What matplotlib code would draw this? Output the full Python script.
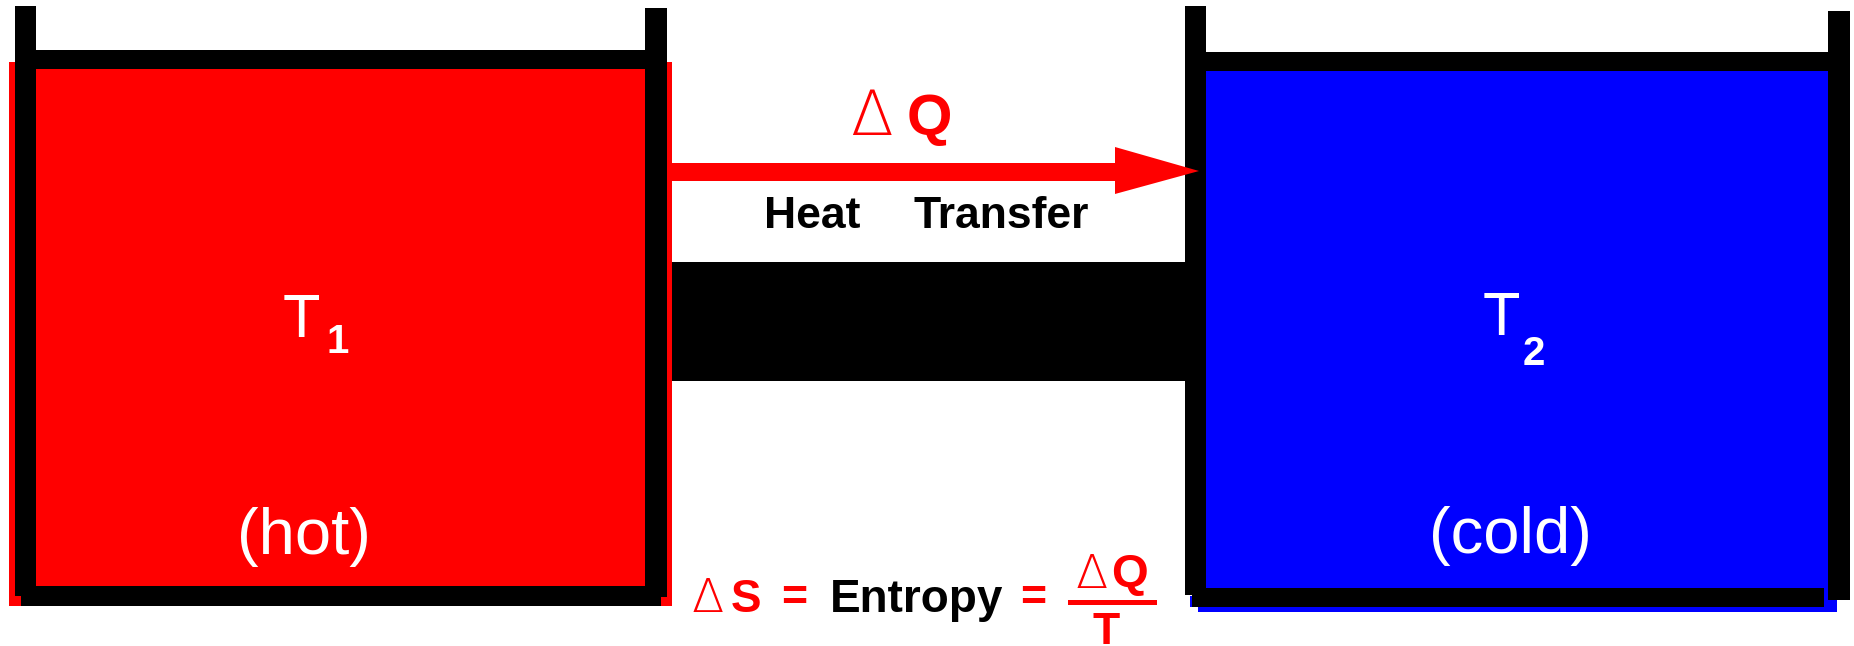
import matplotlib
matplotlib.use("Agg")
import matplotlib.pyplot as plt
from matplotlib.patches import Rectangle, Polygon

# ---- content ----
hot_label = "(hot)"
cold_label = "(cold)"
temp_labels = ["T", "T"]
temp_subs = ["1", "2"]
flow_symbol = ["Δ", "Q"]
flow_label = ["Heat", "Transfer"]
formula_parts = ["Δ", "S", "=", "Entropy", "="]
fraction_num = ["Δ", "Q"]
fraction_den = "T"

RED = "#ff0000"
BLUE = "#0000ff"
BLACK = "#000000"
WHITE = "#ffffff"
FONT = "Liberation Sans"
DELTA_FONT = "DejaVu Sans"

W, H = 1854, 646
fig = plt.figure(figsize=(W / 100, H / 100), dpi=100)
ax = fig.add_axes([0, 0, 1, 1])
ax.set_xlim(0, W)
ax.set_ylim(H, 0)
ax.axis("off")


def rect(x0, y0, x1, y1, color):
    ax.add_patch(Rectangle((x0, y0), x1 - x0, y1 - y0, facecolor=color,
                           edgecolor="none", linewidth=0))


# left (hot) container
rect(9, 62, 672, 606, RED)
rect(15, 6, 36, 596, BLACK)
rect(645, 8, 667, 597, BLACK)
rect(15, 50, 667, 69, BLACK)
rect(21, 586, 661, 606, BLACK)

# right (cold) container
rect(1198, 71, 1837, 612, BLUE)
rect(1190, 596, 1200, 607, BLUE)
rect(1185, 6, 1206, 595, BLACK)
rect(1828, 11, 1850, 600, BLACK)
rect(1185, 52, 1850, 71, BLACK)
rect(1192, 588, 1824, 607, BLACK)

# connecting bar
rect(672, 262, 1186, 381, BLACK)

# heat-flow arrow
rect(670, 163, 1115, 181, RED)
ax.add_patch(Polygon([(1115, 147), (1115, 194), (1199, 171)], closed=True,
                     facecolor=RED, edgecolor="none"))

# labels in the containers
ax.text(283, 337, temp_labels[0], color=WHITE, fontsize=44, family=FONT,
        ha="left", va="baseline")
ax.text(327, 353, temp_subs[0], color=WHITE, fontsize=29, family=FONT,
        fontweight="bold", ha="left", va="baseline")
ax.text(1483, 335, temp_labels[1], color=WHITE, fontsize=44, family=FONT,
        ha="left", va="baseline")
ax.text(1523, 365, temp_subs[1], color=WHITE, fontsize=29, family=FONT,
        fontweight="bold", ha="left", va="baseline")
ax.text(304, 554, hot_label, color=WHITE, fontsize=47, family=FONT,
        ha="center", va="baseline")
ax.text(1510, 553, cold_label, color=WHITE, fontsize=47, family=FONT,
        ha="center", va="baseline")

# arrow labels
ax.text(850, 135, flow_symbol[0], color=RED, fontsize=45, family=DELTA_FONT,
        fontweight="light", ha="left", va="baseline")
ax.text(907, 135, flow_symbol[1], color=RED, fontsize=42, family=FONT,
        fontweight="bold", ha="left", va="baseline")
ax.text(764, 228, flow_label[0], color=BLACK, fontsize=32, family=FONT,
        fontweight="bold", ha="left", va="baseline")
ax.text(914, 228, flow_label[1], color=BLACK, fontsize=32, family=FONT,
        fontweight="bold", ha="left", va="baseline")

# entropy formula
fy = 612
ax.text(692, fy, formula_parts[0], color=RED, fontsize=34, family=DELTA_FONT,
        fontweight="light", ha="left", va="baseline")
ax.text(731, fy, formula_parts[1], color=RED, fontsize=33, family=FONT,
        fontweight="bold", ha="left", va="baseline")
ax.text(781, fy - 2, formula_parts[2], color=RED, fontsize=32, family=FONT,
        fontweight="bold", ha="left", va="baseline")
ax.text(830, fy, formula_parts[3], color=BLACK, fontsize=33, family=FONT,
        fontweight="bold", ha="left", va="baseline")
ax.text(1020, fy - 2, formula_parts[4], color=RED, fontsize=32, family=FONT,
        fontweight="bold", ha="left", va="baseline")
ax.text(1076, 588, fraction_num[0], color=RED, fontsize=34, family=DELTA_FONT,
        fontweight="light", ha="left", va="baseline")
ax.text(1111, 587, fraction_num[1], color=RED, fontsize=34, family=FONT,
        fontweight="bold", ha="left", va="baseline")
rect(1068, 600, 1157, 605, RED)
ax.text(1093, 644, fraction_den, color=RED, fontsize=32, family=FONT,
        fontweight="bold", ha="left", va="baseline")

fig.savefig("out.png", dpi=100, facecolor="white")
